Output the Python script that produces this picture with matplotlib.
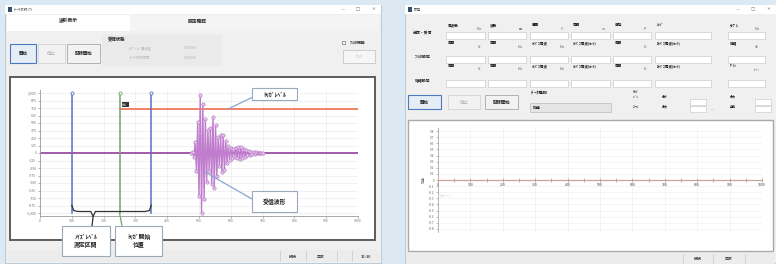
import matplotlib

matplotlib.use("Agg")
import matplotlib.pyplot as plt
from matplotlib.patches import Rectangle

plt.rcParams["font.family"] = ["Noto Sans CJK JP", "DejaVu Sans"]

W, H = 776, 264

# --- left window: received waveform -------------------------------------
wave_x = [476, 480, 484, 488, 492, 496, 500, 504, 508, 512, 516, 520, 524, 528,
          532, 536, 540, 544, 548, 552, 556, 560, 564, 568, 572, 576, 580, 584,
          588, 592, 596, 600, 604, 608, 612, 616, 620, 624, 628, 632, 636, 640,
          644, 648, 652, 656, 660, 664, 668, 672, 676, 680, 684, 688, 692, 696, 700]
wave_y = [0, 20, -60, 180, -300, 520, -720, 960, -1000, 820, -760, 560, -480, 380,
          -300, 420, -520, 600, -580, 460, -380, 260, -220, 300, -320, 300, -280, 200,
          -160, 120, -110, 90, -80, 70, -60, 80, -90, 100, -100, 95, -90, 70,
          -60, 45, -40, 30, -25, 20, -18, 15, -12, 10, -8, 5, -3, 2, 0]

noise_start = 100      # blue cursor 1
trigger_start = 250    # green cursor
noise_end = 350        # blue cursor 2
trigger_level = 730
baseline = 0
x_ticks = [0, 100, 200, 300, 400, 500, 600, 700, 800, 900, 1000]
y_ticks = [-1000, -875, -750, -625, -500, -375, -250, -125, 0,
           125, 250, 375, 500, 625, 750, 875, 1000]

# --- right window: empty acceleration trace ---------------------------------
right_t = [0, 100, 200, 300, 400, 500, 600, 700, 800, 900, 1000]
right_v = [0, 0, 0, 0, 0, 0, 0, 0, 0, 0, 0]
right_yticks = [-8, -7, -6, -5, -4, -3, -2, -1, 0, 1, 2, 3, 4, 5, 6, 7, 8]

fig = plt.figure(figsize=(W / 100, H / 100), dpi=100)
fig.patch.set_facecolor("#dce8f2")

ui = fig.add_axes([0, 0, 1, 1], zorder=0)
ui.set_xlim(0, W)
ui.set_ylim(H, 0)
ui.axis("off")


def rect(x0, y0, x1, y1, fc="white", ec="none", lw=0.6, ax=ui):
    ax.add_patch(Rectangle((x0, y0), x1 - x0, y1 - y0, facecolor=fc, edgecolor=ec, linewidth=lw))


def txt(x, y, s, size=3.2, color="#222222", weight="normal", ha="center", ax=ui, **kw):
    ax.text(x, y, s, fontsize=size, color=color, weight=weight, ha=ha, va="center", **kw)


def window(x0, x1, title):
    rect(x0, 5, x1, 263, fc="#f0f0f0", ec="#b6c3cf", lw=0.6)
    rect(x0, 5, x1, 14, fc="white")
    rect(x0 + 3, 7, x0 + 6.5, 11.5, fc="#35506e")
    txt(x0 + 9, 9.5, title, size=2.6, color="#555555", ha="left")
    for dx, s in [(38, "—"), (23, "□"), (8, "✕")]:
        txt(x1 - dx, 9.5, s, size=3.2, color="#777777", family=["DejaVu Sans"])


# left window chrome
window(5, 381, "ﾃﾞｰﾀ収録ｿﾌﾄ")
rect(7, 15, 379, 31, fc="#f4f4f4")
rect(7, 15, 130, 31, fc="white")
txt(68, 21, "波形表示", weight="bold", size=3.4)
txt(197, 21, "設定確認", weight="bold", size=3.4)
rect(10, 44, 36, 63, fc="#e5edf6", ec="#4b7bbd", lw=0.8)
txt(23, 53.5, "開始", weight="bold")
rect(38, 44, 65, 63, fc="#f2f2f2", ec="#d4d4d4")
txt(51.5, 53.5, "停止", color="#b0b0b0")
rect(67, 44, 100, 63, fc="#f2f2f2", ec="#a8a8a8")
txt(83.5, 53.5, "記録開始", weight="bold")
rect(102, 35, 222, 66, fc="#eaeaea")
txt(117, 39, "受信状態", weight="bold", size=3.2)
for gx, s1, s2 in [(140, "ｻﾝﾌﾟﾘﾝｸﾞ周波数", "ﾃﾞｰﾀ収録時間"), (190, "0.000000", "0.000000")]:
    txt(gx, 48, s1, size=2.4, color="#b8b8b8")
    txt(gx, 58, s2, size=2.4, color="#b8b8b8")
rect(342, 40.5, 345, 44, fc="white", ec="#555555", lw=0.4)
txt(358, 42.5, "ﾌｨﾙﾀ機能", weight="bold", size=2.8)
rect(343, 50, 375, 63, fc="#f6f6f6", ec="#c6c6c6")
txt(359, 56.5, "ﾌｨﾙﾀ", color="#c0c0c0", size=2.6)
rect(10, 77, 375, 240, fc="white", ec="#5c5c5c", lw=1.4)
rect(6, 250, 380, 262, fc="#ececec")
for sx, s in [(293, "接続"), (321, "正常"), (366, "15:30")]:
    txt(sx, 256.5, s, size=2.8, weight="bold", color="#444444")
for sx in [280, 306, 337, 352]:
    ui.plot([sx, sx], [251, 261], color="#c8c8c8", lw=0.5)

# right window chrome
window(405, 776, "設定")
row_labels = ["送信・受信", "ﾌｨﾙﾀ設定", "増幅設定"]
row_label_y = [33, 57, 80]
col_heads = [["周波数", "波数", "電圧", "周期", "遅延", "ﾚﾝｼﾞ"],
             ["周期", "周期", "ﾊｲﾊﾟｽ周波", "ﾊｲﾊﾟｽ周波(ｶｯﾄ)", "周期", "ﾛｰﾊﾟｽ周波(ｶｯﾄ)"],
             ["周期", "周期", "ﾊｲﾊﾟｽ周波", "ﾊｲﾊﾟｽ周波(ｶｯﾄ)", "周期", "ﾛｰﾊﾟｽ周波(ｶｯﾄ)"]]
col_units = [["kHz", "回", "V", "ms", "μs", ""], ["Hz", "kHz", "kHz", "", "Hz", ""],
             ["Hz", "kHz", "kHz", "", "Hz", ""]]
cols = [(446, 485), (488, 526), (530, 568), (571, 610), (613, 651), (655, 711)]
head_y = [25, 43, 66]
box_y = [(32, 38.5), (56, 62.5), (80, 86.5)]
for r in range(3):
    txt(423, row_label_y[r], row_labels[r], size=2.8, weight="bold")
    for c, (cx0, cx1) in enumerate(cols):
        txt(cx0 + 2, head_y[r], col_heads[r][c], size=2.6, weight="bold", ha="left")
        if col_units[r][c]:
            txt(cx1 - 6, head_y[r] + 3.5, col_units[r][c], size=2.1, color="#666666")
        rect(cx0, box_y[r][0], cx1, box_y[r][1], fc="white", ec="#cdcdcd", lw=0.5)
right_heads = ["ｻﾝﾌﾟﾙ", "増幅", "ｹﾞｲﾝ"]
right_units = ["kHz", "dB", "ｹﾞｲﾝ"]
for r in range(3):
    txt(730, head_y[r], right_heads[r], size=2.6, weight="bold", ha="left")
    txt(757, head_y[r] + 3.5, right_units[r], size=2.1, color="#666666")
    rect(728, box_y[r][0], 765, box_y[r][1], fc="white", ec="#cdcdcd", lw=0.5)
rect(408, 95, 441, 109, fc="#e5edf6", ec="#4b7bbd", lw=0.8)
txt(424.5, 102, "開始", weight="bold")
rect(448, 95, 480, 109, fc="#f2f2f2", ec="#d4d4d4")
txt(464, 102, "停止", color="#b0b0b0")
rect(485, 95, 518, 109, fc="#f2f2f2", ec="#a8a8a8")
txt(501.5, 102, "記録開始", weight="bold")
txt(531, 93, "ﾃﾞｰﾀ種別", weight="bold", size=3.0, ha="left")
rect(530, 103, 611, 112, fc="#e4e4e4", ec="#bcbcbc", lw=0.5)
txt(533, 107.5, "加速", weight="bold", size=2.8, ha="left")
txt(636, 92, "ﾄﾘｶﾞ", size=2.3, weight="bold")
txt(636, 97, "ﾚﾍﾞﾙ", size=2.2)
txt(636, 107, "ｺﾞｰﾙ", size=2.2, weight="bold")
txt(665, 97, "最小", size=2.2, weight="bold")
txt(665, 107, "最大", size=2.2, weight="bold")
rect(690, 99, 706, 105, fc="white", ec="#cccccc", lw=0.5)
rect(690, 106, 706, 112, fc="white", ec="#cccccc", lw=0.5)
txt(712, 110, "—", size=2.4, color="#777777")
txt(733, 97, "最大", size=2.2, weight="bold")
txt(733, 107, "全体", size=2.2, weight="bold")
rect(755, 99, 771, 105, fc="white", ec="#cccccc", lw=0.5)
rect(755, 106, 771, 112, fc="white", ec="#cccccc", lw=0.5)
rect(408, 120, 773, 251, fc="white", ec="#a9a9a9", lw=1.0)
rect(406, 253, 775, 264, fc="#ececec")
txt(698, 258.5, "接続", size=2.8, weight="bold", color="#444444")
txt(729, 258.5, "正常", size=2.8, weight="bold", color="#444444")
for sx in [683, 713, 745]:
    ui.plot([sx, sx], [254, 264], color="#c8c8c8", lw=0.5)

# --- left waveform plot ------------------------------------------------------
ax = fig.add_axes([40 / W, 1 - 216 / H, 318 / W, 126 / H], zorder=2)
ax.set_xlim(0, 1000)
ax.set_ylim(-1050, 1050)
ax.set_facecolor("white")
for s in ["top", "right"]:
    ax.spines[s].set_visible(False)
for s in ["left", "bottom"]:
    ax.spines[s].set_color("#9a9a9a")
    ax.spines[s].set_linewidth(0.6)
ax.set_xticks(x_ticks)
ax.set_yticks(y_ticks)
ax.set_xticklabels([str(v) for v in x_ticks])
ax.set_yticklabels([f"{v:,}" for v in y_ticks])
ax.tick_params(labelsize=2.6, length=1.5, width=0.4, pad=1, colors="#7a7a7a")
ax.grid(color="#ececec", linewidth=0.5)

ax.axhline(baseline, color="#9a4fa3", linewidth=1.3, zorder=2)
ax.plot([trigger_start, 1000], [trigger_level, trigger_level],
        color="#f07a5c", linewidth=1.3, zorder=2)
for xv, col in [(noise_start, "#5b6fc2"), (trigger_start, "#74a46e"), (noise_end, "#5b6fc2")]:
    ax.plot([xv, xv], [-1000, 1000], color=col, linewidth=1.1, zorder=3)
    ax.plot([xv], [1000], marker="o", markersize=2.2, markerfacecolor="white",
            markeredgecolor=col, markeredgewidth=0.6, zorder=4)
ax.text(trigger_start + 8, trigger_level + 60, "ﾄﾘｶﾞ", fontsize=2.2, color="white",
        weight="bold", bbox=dict(boxstyle="square,pad=0.15", fc="#333333", ec="none"))
ax.plot(wave_x, wave_y, color="#c07ccd", linewidth=1.0, marker="o", markersize=2.4,
        markerfacecolor="#e6c2ee", markeredgecolor="#b070c0", markeredgewidth=0.4, zorder=5)

# curly brace marking the noise measurement section
brace_x = [noise_start, noise_start + 6, noise_start + 20, 160, 167, 174,
           noise_end - 20, noise_end - 6, noise_end]
brace_y = [-870, -960, -975, -975, -1060, -975, -975, -960, -870]
ax.plot(brace_x, brace_y, color="#333333", linewidth=0.9, clip_on=False, zorder=6)

# callouts: boxes in pixel space on a transparent overlay
ov = fig.add_axes([0, 0, 1, 1], zorder=10)
ov.set_xlim(0, W)
ov.set_ylim(H, 0)
ov.axis("off")


def callout(x0, y0, x1, y1, label, anchor, target, color="#86a7d2"):
    ax.annotate("", xy=target, xytext=anchor, textcoords=ov.transData,
                arrowprops=dict(arrowstyle="-", color=color, lw=0.9, shrinkA=0, shrinkB=0),
                annotation_clip=False, zorder=7)
    rect(x0, y0, x1, y1, fc="white", ec="#9aaabb", lw=0.8, ax=ov)
    txt((x0 + x1) / 2, (y0 + y1) / 2, label, size=4.2, weight="bold", ax=ov, linespacing=1.5)


callout(252, 88, 297, 100, "ﾄﾘｶﾞﾚﾍﾞﾙ", (253, 97), (590, trigger_level))
callout(252, 191, 297, 212, "受信波形", (252, 199), (520, -320))
callout(62, 226, 110, 256, "ﾉｲｽﾞﾚﾍﾞﾙ\n測定区間", (92, 226), (167, -1060), color="#333333")
callout(115, 226, 162, 256, "ﾄﾘｶﾞ開始\n位置", (122, 226), (trigger_start, -1000), color="#74a46e")

# --- right acceleration plot ------------------------------------------------
ax2 = fig.add_axes([438 / W, 1 - 232 / H, 324 / W, 104 / H], zorder=2)
ax2.set_xlim(0, 1000)
ax2.set_ylim(-8.5, 8.5)
ax2.set_facecolor("white")
for s in ["top", "right"]:
    ax2.spines[s].set_visible(False)
ax2.spines["left"].set_color("#b9a3a3")
ax2.spines["left"].set_linewidth(0.6)
ax2.spines["bottom"].set_position(("data", 0))
ax2.spines["bottom"].set_color("#c9a39a")
ax2.spines["bottom"].set_linewidth(0.8)
ax2.set_xticks(right_t)
ax2.set_xticks([50, 150, 250, 350, 450, 550, 650, 750, 850, 950], minor=True)
ax2.set_yticks(right_yticks)
ax2.set_yticklabels([f"{v / 10:.1f}" if v else "0" for v in right_yticks])
ax2.set_xticklabels([str(v) for v in right_t])
ax2.tick_params(axis="x", which="both", direction="inout", length=3, width=0.5,
                colors="#b08c86", labelsize=2.6, pad=1, labelcolor="#444444")
ax2.tick_params(axis="y", length=1.5, width=0.4, colors="#a08a8a", labelsize=2.4,
                pad=1, labelcolor="#6a6a6a")
ax2.grid(color="#f0f0f0", linewidth=0.5)
ax2.plot(right_t, right_v, color="#c69a92", linewidth=0.8)
ax2.set_ylabel("加速", fontsize=2.4, color="#666666", labelpad=2)
ax2.text(0.2, -2.7, "時間 [ms]", transform=ax2.transData, fontsize=2.2, color="#e0e0e0")

fig.savefig("out.png", dpi=100, facecolor=fig.get_facecolor())
